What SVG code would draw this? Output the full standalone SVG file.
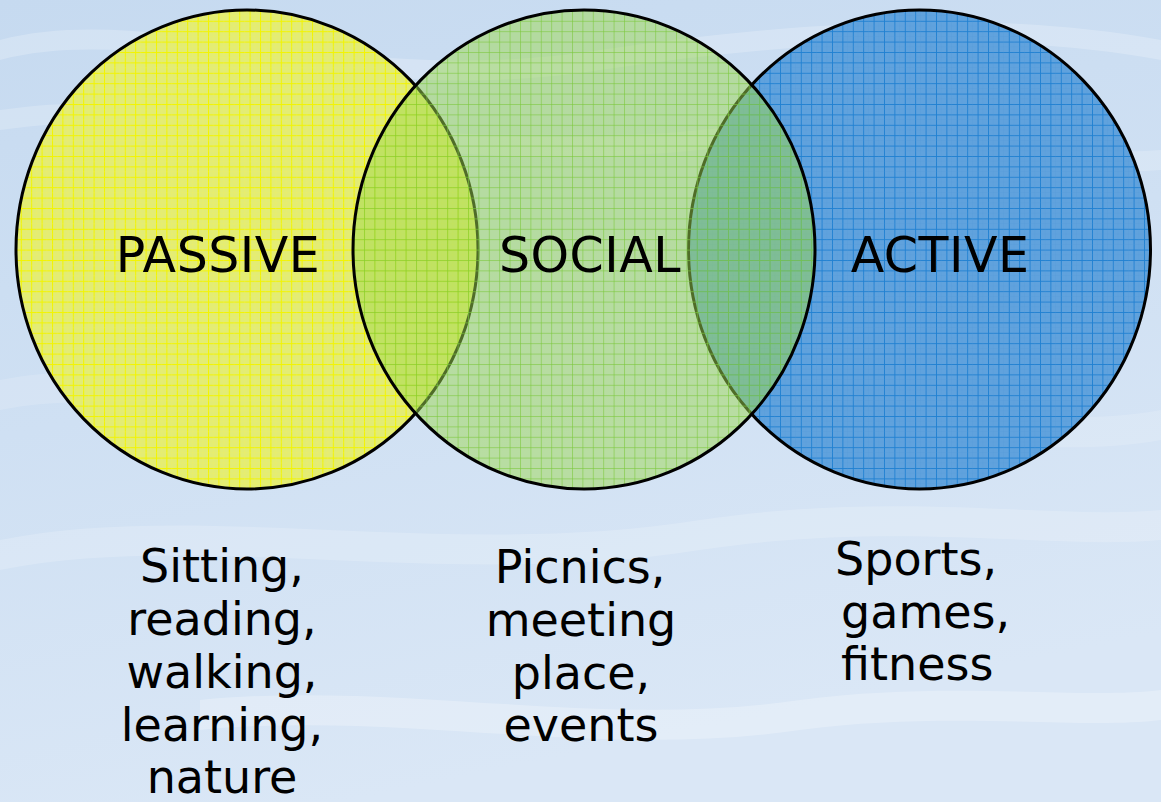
<svg xmlns="http://www.w3.org/2000/svg" width="1161" height="802" viewBox="0 0 1161 802">
<style>
.ring{stroke:#000;stroke-width:3}
.lbl{font-family:"DejaVu Sans","Liberation Sans",sans-serif;font-size:49px;fill:#000;text-anchor:middle;letter-spacing:0.5px}
.desc{font-family:"DejaVu Sans","Liberation Sans",sans-serif;font-size:46px;fill:#000;text-anchor:middle}
.descs{font-family:"DejaVu Sans","Liberation Sans",sans-serif;font-size:46px;fill:#000}
.wave{fill:#ffffff}
</style>
<defs>
<linearGradient id="bg" x1="0" y1="0" x2="0.3" y2="1">
<stop offset="0" stop-color="#c6daf0"/>
<stop offset="0.5" stop-color="#cfe0f3"/>
<stop offset="1" stop-color="#dae7f6"/>
</linearGradient>
<pattern id="pY" patternUnits="userSpaceOnUse" width="10.4" height="10.4">
<rect width="10.4" height="10.4" fill="#e2ec76"/>
<rect x="0" y="0" width="10.4" height="1" fill="#f2f400"/>
<rect x="0" y="0" width="1" height="10.4" fill="#f2f400"/>
<rect x="0" y="5.2" width="10.4" height="0.6" fill="#eef060" opacity="0.5"/>
<rect x="5.2" y="0" width="0.6" height="10.4" fill="#eef060" opacity="0.5"/>
</pattern>
<pattern id="pG" patternUnits="userSpaceOnUse" width="10.4" height="10.4">
<rect width="10.4" height="10.4" fill="#9dd850" fill-opacity="0.5"/>
<rect x="0" y="0" width="10.4" height="1" fill="#7cc83c" fill-opacity="0.6"/>
<rect x="0" y="0" width="1" height="10.4" fill="#7cc83c" fill-opacity="0.6"/>
</pattern>
<pattern id="pB" patternUnits="userSpaceOnUse" width="10.4" height="10.4">
<rect width="10.4" height="10.4" fill="#60a2dd"/>
<rect x="0" y="0" width="10.4" height="0.9" fill="#2080d2"/>
<rect x="0" y="0" width="0.9" height="10.4" fill="#2080d2"/>
<rect x="0" y="5.2" width="10.4" height="0.5" fill="#4e96d8" opacity="0.4"/>
<rect x="5.2" y="0" width="0.5" height="10.4" fill="#4e96d8" opacity="0.4"/>
</pattern>
</defs>
<g id="background">
<rect width="1161" height="802" fill="url(#bg)"/>
<path class="wave" opacity="0.22" d="M0 60 C150 20 350 110 600 70 C800 40 1000 30 1161 60 L1161 40 C1000 10 800 20 600 50 C350 90 150 0 0 40 Z"/>
<path class="wave" opacity="0.2" d="M0 130 C200 100 400 180 700 150 C900 130 1050 180 1161 170 L1161 150 C1050 160 900 110 700 130 C400 160 200 80 0 110 Z"/>
<path class="wave" opacity="0.18" d="M0 540 C200 500 450 560 700 520 C900 490 1050 520 1161 510 L1161 540 C1050 550 900 520 700 550 C450 590 200 530 0 570 Z"/>
<path class="wave" opacity="0.25" d="M200 700 C400 680 600 730 800 700 C950 680 1080 700 1161 690 L1161 720 C1080 730 950 710 800 730 C600 760 400 710 200 730 Z"/>
<path class="wave" opacity="0.15" d="M0 380 C150 350 250 420 400 400 L400 430 C250 450 150 380 0 410 Z"/>
<path class="wave" opacity="0.15" d="M860 420 C950 400 1050 430 1161 410 L1161 440 C1050 460 950 430 860 450 Z"/>
</g>
<g id="passive">
<ellipse class="ring" cx="247" cy="249.5" rx="231" ry="239.5" fill="url(#pY)"/>
<text class="lbl" x="218" y="272">PASSIVE</text>
</g>
<g id="active">
<ellipse class="ring" cx="919.5" cy="249.5" rx="231" ry="239.5" fill="url(#pB)"/>
<text class="lbl" x="940" y="272">ACTIVE</text>
</g>
<g id="social">
<ellipse class="ring" cx="584" cy="249.5" rx="231" ry="239.5" fill="url(#pG)"/>
<text class="lbl" x="590" y="272">SOCIAL</text>
</g>
<g id="connectors"/>
<g id="passive-desc">
<text class="desc" x="222" y="582">Sitting,</text>
<text class="desc" x="222" y="635">reading,</text>
<text class="desc" x="222" y="688">walking,</text>
<text class="desc" x="222" y="741">learning,</text>
<text class="desc" x="222" y="793">nature</text>
</g>
<g id="social-desc">
<text class="desc" x="580" y="583">Picnics,</text>
<text class="desc" x="581" y="636">meeting</text>
<text class="desc" x="581" y="689">place,</text>
<text class="desc" x="581" y="741">events</text>
</g>
<g id="active-desc">
<text class="descs" x="835" y="575">Sports,</text>
<text class="descs" x="841" y="628">games,</text>
<text class="descs" x="841" y="680">fitness</text>
</g>
</svg>
